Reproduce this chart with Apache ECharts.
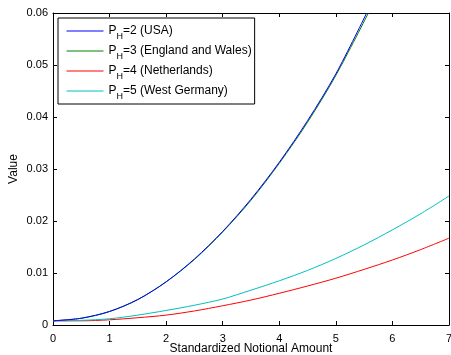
<!DOCTYPE html>
<html>
<head>
<meta charset="utf-8">
<script src="https://cdn.jsdelivr.net/npm/echarts@6/dist/echarts.min.js"></script>
<style>html,body{margin:0;padding:0;background:#fff}#c{width:451px;height:355px}</style>
</head>
<body>
<div id="c"></div>
<script>
// Data
var xTicks = [0, 1, 2, 3, 4, 5, 6, 7];
var yTicks = [0, 0.01, 0.02, 0.03, 0.04, 0.05, 0.06];

var xUSA = [0, 0.5, 1, 1.5, 2, 2.5, 3, 3.5, 4, 4.5, 5, 5.545];
var yUSA = [0.0008, 0.0013, 0.0026, 0.0049, 0.0083, 0.0127, 0.0180, 0.0242, 0.0313, 0.0393, 0.0483, 0.0600];

var xEW = [0, 0.5, 1, 1.5, 2, 2.5, 3, 3.5, 4, 4.5, 5, 5.575];
var yEW = [0.0008, 0.0013, 0.0026, 0.0049, 0.0083, 0.0126, 0.0179, 0.0240, 0.0311, 0.0390, 0.0480, 0.0600];

var xNL = [0, 0.5, 1, 1.5, 2, 2.5, 3, 3.5, 4, 4.5, 5, 5.5, 6, 6.5, 7];
var yNL = [0.0008, 0.0008, 0.0010, 0.0014, 0.0019, 0.0027, 0.0037, 0.0048, 0.0061, 0.0075, 0.0090, 0.0107, 0.0125, 0.0145, 0.0167];

var xWG = [0, 0.5, 1, 1.5, 2, 2.5, 3, 3.5, 4, 4.5, 5, 5.5, 6, 6.5, 7];
var yWG = [0.0008, 0.0009, 0.0012, 0.0019, 0.0028, 0.0038, 0.0050, 0.0067, 0.0085, 0.0105, 0.0128, 0.0154, 0.0183, 0.0214, 0.0248];

var names = ['P_H=2 (USA)', 'P_H=3 (England and Wales)', 'P_H=4 (Netherlands)', 'P_H=5 (West Germany)'];
var colors = ['#0000ff', '#008000', '#ff0000', '#00bfbf'];

function pairs(xs, ys) { return xs.map(function (x, i) { return [x, ys[i]]; }); }
var seriesData = [pairs(xUSA, yUSA), pairs(xEW, yEW), pairs(xNL, yNL), pairs(xWG, yWG)];

var FONT = '"Liberation Sans", Arial, Helvetica, sans-serif';
var chart = echarts.init(document.getElementById('c'), null, { renderer: 'canvas' });

function axisCommon(show) {
  return {
    type: 'value',
    axisLine: { show: true, onZero: false, lineStyle: { color: '#000', width: 1 } },
    axisTick: { show: true, inside: true, length: 4, lineStyle: { color: '#000', width: 1 } },
    splitLine: { show: false },
    axisLabel: { show: show, color: '#000', fontSize: 11, fontFamily: FONT }
  };
}

var xBottom = Object.assign(axisCommon(true), {
  position: 'bottom', min: 0, max: 7, interval: 1,
  name: 'Standardized Notional Amount', nameLocation: 'middle', nameGap: 18, nameMoveOverlap: false,
  nameTextStyle: { color: '#000', fontSize: 12, fontFamily: FONT }
});
xBottom.axisLabel.margin = 8;
var xTop = Object.assign(axisCommon(false), { position: 'top', min: 0, max: 7, interval: 1 });

var yLeft = Object.assign(axisCommon(true), {
  position: 'left', min: 0, max: 0.06, interval: 0.01,
  name: 'Value', nameLocation: 'middle', nameGap: 33, nameMoveOverlap: false,
  nameTextStyle: { color: '#000', fontSize: 12, fontFamily: FONT }
});
yLeft.axisLabel.margin = 5;
yLeft.axisLabel.formatter = function (v) { return v === 0 ? '0' : v.toFixed(2); };
var yRight = Object.assign(axisCommon(false), { position: 'right', min: 0, max: 0.06, interval: 0.01 });

var series = names.map(function (n, i) {
  return {
    name: n, type: 'line', xAxisIndex: 0, yAxisIndex: 0,
    data: seriesData[i], smooth: 0.3, symbol: 'none', clip: true,
    lineStyle: { color: colors[i], width: 1 }, itemStyle: { color: colors[i] },
    z: [6, 3, 4, 5][i]
  };
});

chart.setOption({
  animation: false,
  backgroundColor: '#fff',
  grid: { left: 53, right: 2, top: 13, bottom: 30, containLabel: false, outerBoundsMode: 'none' },
  xAxis: [xBottom, xTop],
  yAxis: [yLeft, yRight],
  legend: {
    orient: 'vertical', left: 58, top: 18,
    padding: [3, 3, 3, 8], itemGap: 0, itemWidth: 37, itemHeight: 14,
    borderColor: '#000', borderWidth: 1, backgroundColor: '#fff',
    data: names.map(function (n, i) {
      return { name: n, itemStyle: { color: colors[i], opacity: 0 }, lineStyle: { color: colors[i], width: 1, opacity: 1 } };
    }),
    itemTextGap: 4,
    formatter: function (n) {
      var rest = n.slice(3);
      return '{p|P}{s|H}{p|' + rest + '}';
    },
    textStyle: {
      color: '#000', fontFamily: FONT, fontSize: 12, lineHeight: 20,
      rich: {
        p: { fontSize: 12, fontFamily: FONT, color: '#000', lineHeight: 20, verticalAlign: 'middle' },
        s: { fontSize: 9, fontFamily: FONT, color: '#000', lineHeight: 11, verticalAlign: 'bottom' }
      }
    }
  },
  series: series
});
</script>
</body>
</html>
